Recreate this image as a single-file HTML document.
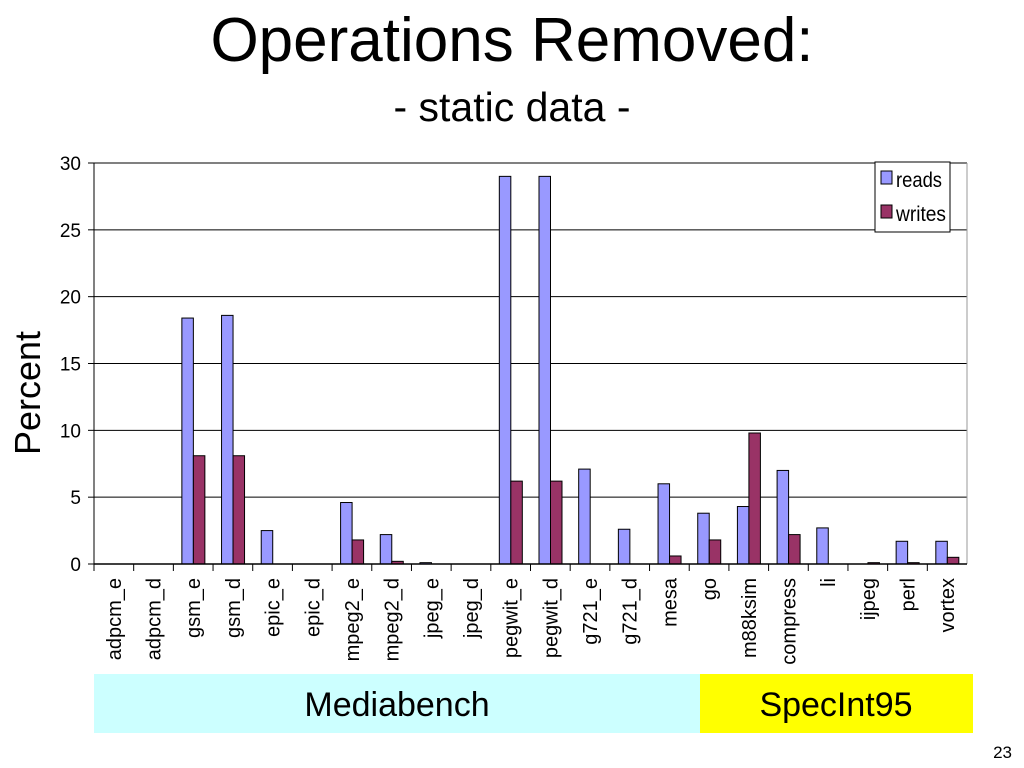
<!DOCTYPE html>
<html><head><meta charset="utf-8"><style>
body{margin:0;background:#fff;}
svg{display:block;font-family:"Liberation Sans",sans-serif;}
</style></head><body>
<svg id="c" width="1024" height="768">
<text x="512" y="61" text-anchor="middle" font-size="62">Operations Removed:</text>
<text x="512" y="121" text-anchor="middle" font-size="41">- static data -</text>
<text transform="translate(40,393) rotate(-90)" text-anchor="middle" font-size="36">Percent</text>
<rect x="94" y="674" width="606" height="59" fill="#ccffff"/>
<text x="397" y="716" text-anchor="middle" font-size="34">Mediabench</text>
<rect x="700" y="674" width="273" height="59" fill="#ffff00"/>
<text x="836" y="716" text-anchor="middle" font-size="34">SpecInt95</text>
<text x="1012" y="758" text-anchor="end" font-size="17">23</text>
<g id="plot"></g>
</svg>
<script>
const categories=["adpcm_e","adpcm_d","gsm_e","gsm_d","epic_e","epic_d","mpeg2_e","mpeg2_d","jpeg_e","jpeg_d","pegwit_e","pegwit_d","g721_e","g721_d","mesa","go","m88ksim","compress","li","ijpeg","perl","vortex"];
const reads=[0,0,18.4,18.6,2.5,0,4.6,2.2,0.1,0,29,29,7.1,2.6,6.0,3.8,4.3,7.0,2.7,0,1.7,1.7];
const writes=[0,0,8.1,8.1,0,0,1.8,0.2,0,0,6.2,6.2,0,0,0.6,1.8,9.8,2.2,0,0.1,0.1,0.5];
const yTicks=[0,5,10,15,20,25,30];
const NS="http://www.w3.org/2000/svg";
const g=document.getElementById('plot');
const X0=94,X1=967,Y0=564,Y1=163,YMAX=30;
const bw=(X1-X0)/categories.length;
const y=v=>Y0-(v/YMAX)*(Y0-Y1);
const x=i=>X0+i*bw;
function mk(t,a){const e=document.createElementNS(NS,t);for(const k in a)e.setAttribute(k,a[k]);g.appendChild(e);return e;}
yTicks.forEach(t=>{
  const l=mk('line',{x1:X0,x2:X1,y1:y(t),y2:y(t),stroke:'#000','stroke-width':1});
  
  
  const tk=mk('line',{x1:X0-6,x2:X0,y1:y(t),y2:y(t),stroke:'#000'});
  
  
  const tx=mk('text',{x:X0-13,y:y(t)+7,'text-anchor':'end','font-size':19});
  tx.textContent=t;
  
  
});
const rb=mk('line',{x1:X1,x2:X1,y1:Y1,y2:Y0,stroke:'#999'});


const ya=mk('line',{x1:X0,x2:X0,y1:Y1,y2:Y0,stroke:'#000'});


categories.forEach((c,i)=>{
  const r=mk('rect',{x:x(i)+8.5,y:y(reads[i]),width:11.5,height:Y0-y(reads[i]),fill:'#9999ff',stroke:'#000','stroke-width':1});
  
  
  const w=mk('rect',{x:x(i)+20,y:y(writes[i]),width:11.5,height:Y0-y(writes[i]),fill:'#993366',stroke:'#000','stroke-width':1});
  
  
  const tk=mk('line',{x1:x(i),x2:x(i),y1:Y0,y2:Y0+7,stroke:'#000'});
  
  
  const t=mk('text',{transform:`translate(${x(i)+bw/2+7},578) rotate(-90)`,'text-anchor':'end','font-size':20});
  t.textContent=c;
  
  
});
const xa=mk('line',{x1:X0,x2:X1,y1:Y0,y2:Y0,stroke:'#000','stroke-width':1.5});


const lg=mk('rect',{x:875,y:162,width:75,height:70,fill:'#fff',stroke:'#000'});


[['reads','#9999ff',184],['writes','#993366',218]].forEach(([n,col,yy])=>{
  const s=mk('rect',{x:881,y:yy-13,width:11,height:13,fill:col,stroke:'#000'});
  
  
  const t=mk('text',{x:896,y:yy+3,'font-size':21,textLength:n==='reads'?46:50,lengthAdjust:'spacingAndGlyphs'});
  t.textContent=n;
  
  
});
</script>
</body></html>
